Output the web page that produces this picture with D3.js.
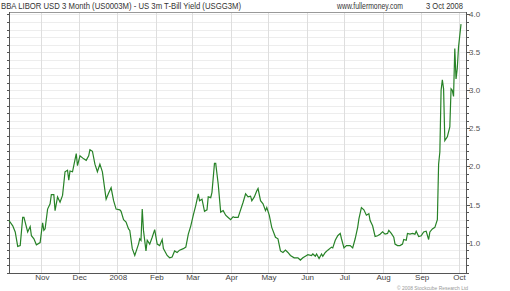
<!DOCTYPE html>
<html>
<head>
<meta charset="utf-8">
<script src="https://cdn.jsdelivr.net/npm/d3@7"></script>
<style>
  body { margin: 0; background: #fff; }
  text { font-family: "Liberation Sans", Arial, sans-serif; }
</style>
</head>
<body>
<svg width="510" height="291"></svg>
<script>
// spread values (percent)
var dates = [
  "2007-10-06","2007-10-09","2007-10-11","2007-10-13","2007-10-15","2007-10-17","2007-10-18","2007-10-21",
  "2007-10-23","2007-10-24","2007-10-26","2007-10-28","2007-10-31","2007-11-02","2007-11-03","2007-11-04",
  "2007-11-06","2007-11-08","2007-11-09","2007-11-11","2007-11-12","2007-11-14","2007-11-16","2007-11-18",
  "2007-11-20","2007-11-22","2007-11-23","2007-11-24","2007-11-26","2007-11-29","2007-11-30","2007-12-02",
  "2007-12-05","2007-12-07","2007-12-09","2007-12-10","2007-12-12","2007-12-14","2007-12-16","2007-12-18",
  "2007-12-20","2007-12-23","2007-12-25","2007-12-27","2007-12-29","2007-12-31","2008-01-03","2008-01-04",
  "2008-01-06","2008-01-08","2008-01-10","2008-01-11","2008-01-13","2008-01-15","2008-01-18","2008-01-19",
  "2008-01-20","2008-01-21","2008-01-22","2008-01-24","2008-01-25","2008-01-27","2008-01-29","2008-01-31",
  "2008-02-02","2008-02-04","2008-02-06","2008-02-07","2008-02-10","2008-02-12","2008-02-14","2008-02-16",
  "2008-02-18","2008-02-20","2008-02-23","2008-02-25","2008-02-27","2008-02-29","2008-03-02","2008-03-04",
  "2008-03-06","2008-03-07","2008-03-09","2008-03-11","2008-03-13","2008-03-14","2008-03-16","2008-03-17",
  "2008-03-19","2008-03-20","2008-03-22","2008-03-24","2008-03-26","2008-03-28","2008-03-30","2008-04-01",
  "2008-04-03","2008-04-04","2008-04-07","2008-04-08","2008-04-11","2008-04-13","2008-04-15","2008-04-17",
  "2008-04-18","2008-04-20","2008-04-22","2008-04-23","2008-04-25","2008-04-27","2008-04-29","2008-04-30",
  "2008-05-02","2008-05-04","2008-05-07","2008-05-09","2008-05-11","2008-05-13","2008-05-15","2008-05-17",
  "2008-05-19","2008-05-22","2008-05-25","2008-05-27","2008-05-29","2008-06-01","2008-06-02","2008-06-05",
  "2008-06-06","2008-06-08","2008-06-09","2008-06-11","2008-06-13","2008-06-14","2008-06-16","2008-06-18",
  "2008-06-21","2008-06-22","2008-06-24","2008-06-26","2008-06-28","2008-06-29","2008-07-01","2008-07-03",
  "2008-07-06","2008-07-08","2008-07-10","2008-07-12","2008-07-13","2008-07-15","2008-07-17","2008-07-19",
  "2008-07-21","2008-07-22","2008-07-24","2008-07-26","2008-07-28","2008-07-30","2008-08-01","2008-08-03",
  "2008-08-05","2008-08-06","2008-08-08","2008-08-10","2008-08-11","2008-08-13","2008-08-15","2008-08-17",
  "2008-08-18","2008-08-20","2008-08-21","2008-08-23","2008-08-25","2008-08-27","2008-08-28","2008-08-30",
  "2008-09-01","2008-09-03","2008-09-05","2008-09-07","2008-09-08","2008-09-10","2008-09-12","2008-09-14",
  "2008-09-15","2008-09-16","2008-09-17","2008-09-18","2008-09-19","2008-09-20","2008-09-22","2008-09-24",
  "2008-09-25","2008-09-26","2008-09-27","2008-09-28","2008-09-29","2008-09-30","2008-10-01","2008-10-03"
];
var spread = [
  1.29,1.22,1.14,0.95,0.96,1.33,1.33,1.14,
  1.21,1.09,1.05,0.97,1.00,1.26,1.16,1.18,
  1.44,1.51,1.63,1.63,1.42,1.60,1.53,1.62,
  1.93,1.95,1.82,1.94,1.93,2.17,2.01,2.14,
  2.10,2.08,2.14,2.22,2.20,2.03,1.93,2.03,
  1.93,1.57,1.65,1.72,1.55,1.44,1.43,1.41,
  1.30,1.27,1.18,1.16,0.92,0.83,0.98,1.05,
  1.03,1.44,1.16,0.89,1.03,0.98,1.07,1.17,
  0.98,0.96,1.04,0.92,0.83,0.80,0.81,0.89,
  0.87,0.90,0.92,0.94,1.11,1.22,1.36,1.49,
  1.64,1.55,1.57,1.41,1.43,1.60,1.59,1.66,
  2.04,2.04,1.77,1.40,1.42,1.36,1.33,1.30,
  1.34,1.33,1.33,1.38,1.53,1.64,1.60,1.61,
  1.55,1.60,1.68,1.71,1.55,1.51,1.42,1.46,
  1.36,1.20,1.07,1.05,0.89,0.87,0.90,0.87,
  0.83,0.80,0.80,0.77,0.80,0.83,0.84,0.83,
  0.85,0.82,0.85,0.79,0.85,0.82,0.87,0.90,
  0.94,0.93,1.03,1.09,1.12,1.05,0.93,0.96,
  0.96,0.93,1.05,1.20,1.31,1.46,1.43,1.36,
  1.38,1.29,1.22,1.08,1.09,1.11,1.14,1.11,
  1.12,1.16,1.12,1.07,0.98,0.96,0.96,0.98,
  1.04,1.03,1.12,1.11,1.12,1.11,1.15,1.08,
  1.09,1.14,1.15,1.04,1.14,1.18,1.20,1.30,
  2.03,2.19,3.00,3.14,3.02,2.34,2.39,2.52,
  3.02,3.00,2.92,3.55,3.15,3.29,3.57,3.87
];
var monthTicks = ["2007-11-01","2007-12-01","2008-01-01","2008-02-01","2008-03-01","2008-04-01",
  "2008-05-01","2008-06-01","2008-07-01","2008-08-01","2008-09-01","2008-10-01"];
var monthLabels = ["Nov","Dec","2008","Feb","Mar","Apr","May","Jun","Jul","Aug","Sep","Oct"];
var yLabels = [1.0, 1.5, 2.0, 2.5, 3.0, 3.5, 4.0];

var parse = d3.timeParse("%Y-%m-%d");
var data = dates.map(function(d, i) { return {date: parse(d), value: spread[i]}; });

var pLeft = 9, pRight = 466, pTop = 12, pBottom = 273;

var x = d3.scaleTime()
    .domain([parse("2007-10-06"), parse("2008-10-07")])
    .range([pLeft, pRight]);
var y = d3.scaleLinear()
    .domain([0.6, 4.03])
    .range([pBottom, pTop]);

var svg = d3.select("svg");

// minor horizontal grid every 0.1
var minor = d3.range(6, 41).map(function(i) { return i / 10; });
svg.append("g").selectAll("line")
  .data(minor)
  .enter().append("line")
    .attr("x1", pLeft).attr("x2", pRight)
    .attr("y1", function(d) { return Math.round(y(d)) + 0.5; })
    .attr("y2", function(d) { return Math.round(y(d)) + 0.5; })
    .style("stroke", "#ededed");

// month grid
svg.append("g").selectAll("line")
  .data(monthTicks)
  .enter().append("line")
    .attr("x1", function(d) { return Math.round(x(parse(d))) + 0.5; })
    .attr("x2", function(d) { return Math.round(x(parse(d))) + 0.5; })
    .attr("y1", pTop).attr("y2", pBottom)
    .style("stroke", "#dedede");

// frame
svg.append("line").attr("x1", pLeft).attr("x2", pRight).attr("y1", pTop + 0.5).attr("y2", pTop + 0.5)
  .style("stroke", "#999");
svg.append("line").attr("x1", pLeft).attr("x2", pRight + 0.5).attr("y1", pBottom + 0.5).attr("y2", pBottom + 0.5)
  .style("stroke", "#555");
svg.append("line").attr("x1", pLeft + 0.5).attr("x2", pLeft + 0.5).attr("y1", pTop).attr("y2", pBottom)
  .style("stroke", "#555");
svg.append("line").attr("x1", pRight + 0.5).attr("x2", pRight + 0.5).attr("y1", pTop).attr("y2", pBottom)
  .style("stroke", "#555");

// small ticks on both side axes
svg.append("g").selectAll("line")
  .data(minor)
  .enter().append("line")
    .attr("x1", pLeft - 2).attr("x2", pLeft)
    .attr("y1", function(d) { return Math.round(y(d)) + 0.5; })
    .attr("y2", function(d) { return Math.round(y(d)) + 0.5; })
    .style("stroke", "#555");
svg.append("g").selectAll("line")
  .data(minor)
  .enter().append("line")
    .attr("x1", pRight).attr("x2", function(d) { return pRight + (Math.round(d * 10) % 5 == 0 ? 4 : 3); })
    .attr("y1", function(d) { return Math.round(y(d)) + 0.5; })
    .attr("y2", function(d) { return Math.round(y(d)) + 0.5; })
    .style("stroke", "#555");

// right axis labels
svg.append("g").selectAll("text")
  .data(yLabels)
  .enter().append("text")
    .attr("x", pRight + 3)
    .attr("y", function(d) { return y(d) + 3; })
    .style("font-size", "8px")
    .style("fill", "#555")
    .text(function(d) { return d.toFixed(1); });

// month labels
svg.append("g").selectAll("text")
  .data(monthTicks)
  .enter().append("text")
    .attr("x", function(d) { return x(parse(d)) + 1; })
    .attr("y", 280)
    .attr("text-anchor", "middle")
    .style("font-size", "8px")
    .style("fill", "#444")
    .text(function(d, i) { return monthLabels[i]; });

// the series
var line = d3.line()
    .x(function(d) { return x(d.date); })
    .y(function(d) { return y(d.value); });
svg.append("path")
  .datum(data)
  .attr("d", line)
  .style("fill", "none")
  .style("stroke", "#278227")
  .style("stroke-width", 1.2);

// headings
svg.append("text").attr("x", 1).attr("y", 9)
  .attr("textLength", 240).attr("lengthAdjust", "spacingAndGlyphs")
  .style("font-size", "8.4px").style("fill", "#333")
  .text("BBA LIBOR USD 3 Month (US0003M) - US 3m T-Bill Yield (USGG3M)");
svg.append("text").attr("x", 337).attr("y", 9)
  .attr("textLength", 66).attr("lengthAdjust", "spacingAndGlyphs")
  .style("font-size", "8.4px").style("fill", "#333")
  .text("www.fullermoney.com");
svg.append("text").attr("x", 426).attr("y", 9)
  .attr("textLength", 37).attr("lengthAdjust", "spacingAndGlyphs")
  .style("font-size", "8.4px").style("fill", "#333")
  .text("3 Oct 2008");
svg.append("text").attr("x", 397).attr("y", 289.5)
  .attr("textLength", 71).attr("lengthAdjust", "spacingAndGlyphs")
  .style("font-size", "4.6px").style("fill", "#999")
  .text("\u00a9 2008 Stockcube Research Ltd");
</script>
</body>
</html>
